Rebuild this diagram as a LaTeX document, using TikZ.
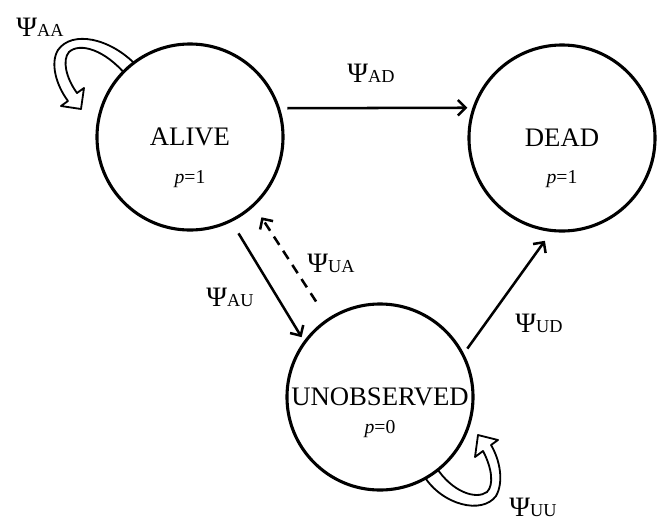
\documentclass[tikz,border=0pt]{standalone}
\usepackage{fontspec}
\setmainfont{Liberation Serif}
\usetikzlibrary{arrows.meta}
\newcommand{\psilab}[1]{{\fontsize{20pt}{20pt}\selectfont Ψ}{\fontsize{13pt}{13pt}\selectfont #1}}

\begin{document}
\begin{tikzpicture}[x=0.025cm, y=-0.025cm,
	state/.style={draw, circle, line width=2.2pt, minimum size=4.65cm, inner sep=0pt, outer sep=0pt, fill=white, font=\fontsize{19pt}{19pt}\selectfont},
	prob/.style={font=\fontsize{14pt}{14pt}\selectfont},
	label/.style={inner sep=0pt},
	trans/.style={line width=1.8pt, -{Straight Barb[length=5.5pt,width=11pt]}},
	selfarrow/.style={draw, fill=white, line width=1.3pt, line join=round}]
		\useasboundingbox (0, 0) rectangle (657, 521);
		\draw[selfarrow] (136, 65) .. controls (110, 38) and (72, 30) .. (58, 50) .. controls (50, 63) and (56, 85) .. (68, 101) -- (61, 106) -- (81, 109) -- (84, 88) -- (77, 93) .. controls (66, 78) and (62, 60) .. (69, 52) .. controls (80, 42) and (105, 50) .. (126, 75) -- cycle;
		\draw[selfarrow] (424, 476) .. controls (442, 505) and (482, 515) .. (496, 496) .. controls (504, 482) and (500, 460) .. (491, 445) -- (498, 440) -- (478, 435) -- (475, 457) -- (483, 451) .. controls (492, 468) and (494, 485) .. (487, 492) .. controls (476, 500) and (452, 492) .. (436, 467) -- cycle;
		\node[state] (alive) at (190, 137) {ALIVE};
		\node[state] (dead) at (562, 138) {DEAD};
		\node[state] (unob) at (380, 397) {UNOBSERVED};
		\foreach \s/\v/\d in {alive/1/30, dead/1/29, unob/0/23} {
			\node[prob] (\s p) at ([yshift=-\d pt]\s.center) {\textit{p}=\v};
		};
		\draw[trans, shorten <=6.4pt, shorten >=4.7pt] (alive.18) -- (dead.161);
		\draw[trans, shorten <=10.6pt, shorten >=4.3pt] (alive.296) -- (unob.144);
		\draw[trans, dash pattern=on 7pt off 5pt, shorten <=15.6pt, shorten >=10.4pt] (unob.124) -- (alive.313);
		\draw[trans, shorten <=5.4pt, shorten >=9pt] (unob.27) -- (dead.264);
		\node[label] (psiAA) at (40, 27) {\psilab{AA}};
		\node[label] (psiAD) at (371, 73) {\psilab{AD}};
		\node[label] (psiAU) at (230, 297) {\psilab{AU}};
		\node[label] (psiUA) at (331, 263) {\psilab{UA}};
		\node[label] (psiUD) at (539, 323) {\psilab{UD}};
		\node[label] (psiUU) at (533, 507) {\psilab{UU}};
	\end{tikzpicture}
\end{document}
